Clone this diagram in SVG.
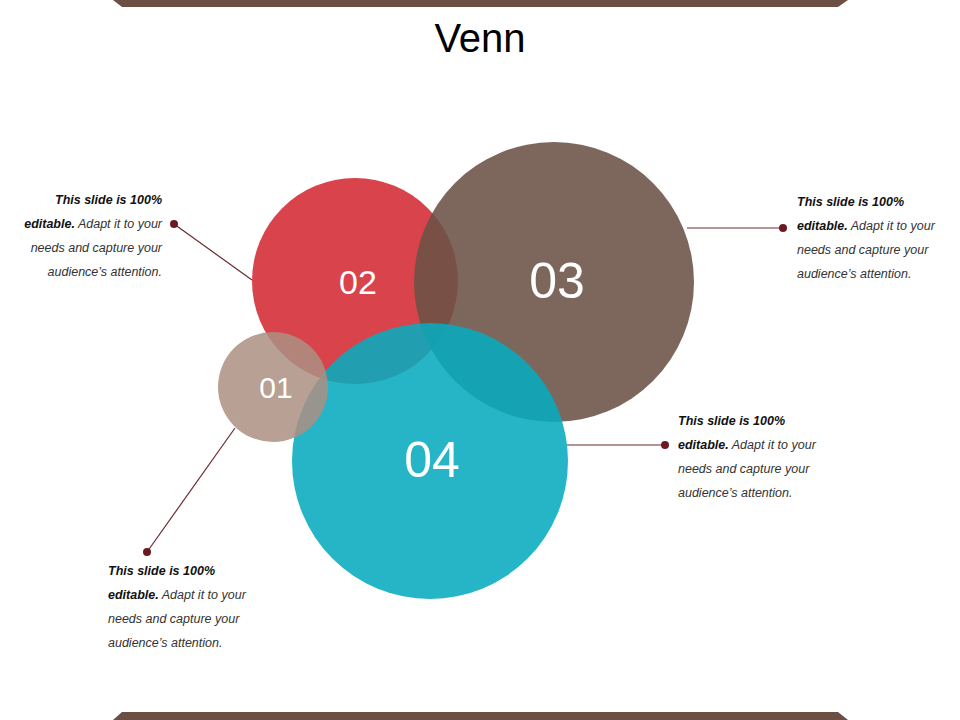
<svg xmlns="http://www.w3.org/2000/svg" width="960" height="720" viewBox="0 0 960 720">
<style>
.t{font-family:"Liberation Sans",Arial,sans-serif;font-size:12.5px;font-style:italic;fill:#333}
.b{font-weight:bold;fill:#111}
.n{font-family:"Liberation Sans",Arial,sans-serif;fill:#fff;text-anchor:middle;dominant-baseline:central}
.c{stroke:#6B2A2E;stroke-width:1.2;fill:none}
.d{fill:#6B1A22}
</style>
<rect width="960" height="720" fill="#fff"/>
<polygon points="113,0 848,0 838,7 122,7" fill="#6B4F44"/>
<polygon points="122,712 838,712 848,720 113,720" fill="#6B4F44"/>
<text x="480" y="52" text-anchor="middle" font-family="Liberation Sans,Arial,sans-serif" font-size="40" fill="#000">Venn</text>
<g id="connectors">
<line class="c" x1="174" y1="224" x2="252" y2="280"/><circle class="d" cx="174" cy="224" r="4"/>
<line class="c" x1="687" y1="228" x2="783" y2="228"/><circle class="d" cx="783" cy="228" r="4"/>
<line class="c" x1="567" y1="445" x2="665" y2="445"/><circle class="d" cx="665" cy="445" r="4"/>
<line class="c" x1="147" y1="552" x2="235" y2="428"/><circle class="d" cx="147" cy="552" r="4"/>
</g>
<g id="n02"><circle cx="355" cy="281" r="103" fill="#D9434B"/></g>
<g id="n03"><circle cx="554" cy="282" r="140" fill="#6B5246" fill-opacity="0.88"/></g>
<g id="n04"><circle cx="430" cy="461" r="138" fill="#07ABBE" fill-opacity="0.88"/></g>
<g id="n01"><circle cx="273" cy="387" r="55" fill="#AB8F83" fill-opacity="0.85"/></g>
<g id="labels">
<text class="n" x="358" y="282" font-size="34">02</text>
<text class="n" x="557" y="281" font-size="50">03</text>
<text class="n" x="432" y="460" font-size="50">04</text>
<text class="n" x="276" y="387" font-size="30">01</text>
</g>
<g id="text1" class="t" text-anchor="end">
<text x="162" y="204"><tspan class="b">This slide is 100%</tspan></text>
<text x="162" y="228"><tspan class="b">editable.</tspan> Adapt it to your</text>
<text x="162" y="252">needs and capture your</text>
<text x="162" y="276">audience’s attention.</text>
</g>
<g id="text2" class="t">
<text x="797" y="206"><tspan class="b">This slide is 100%</tspan></text>
<text x="797" y="230"><tspan class="b">editable.</tspan> Adapt it to your</text>
<text x="797" y="254">needs and capture your</text>
<text x="797" y="278">audience’s attention.</text>
</g>
<g id="text3" class="t">
<text x="678" y="425"><tspan class="b">This slide is 100%</tspan></text>
<text x="678" y="449"><tspan class="b">editable.</tspan> Adapt it to your</text>
<text x="678" y="473">needs and capture your</text>
<text x="678" y="497">audience’s attention.</text>
</g>
<g id="text4" class="t">
<text x="108" y="575"><tspan class="b">This slide is 100%</tspan></text>
<text x="108" y="599"><tspan class="b">editable.</tspan> Adapt it to your</text>
<text x="108" y="623">needs and capture your</text>
<text x="108" y="647">audience’s attention.</text>
</g>
</svg>
